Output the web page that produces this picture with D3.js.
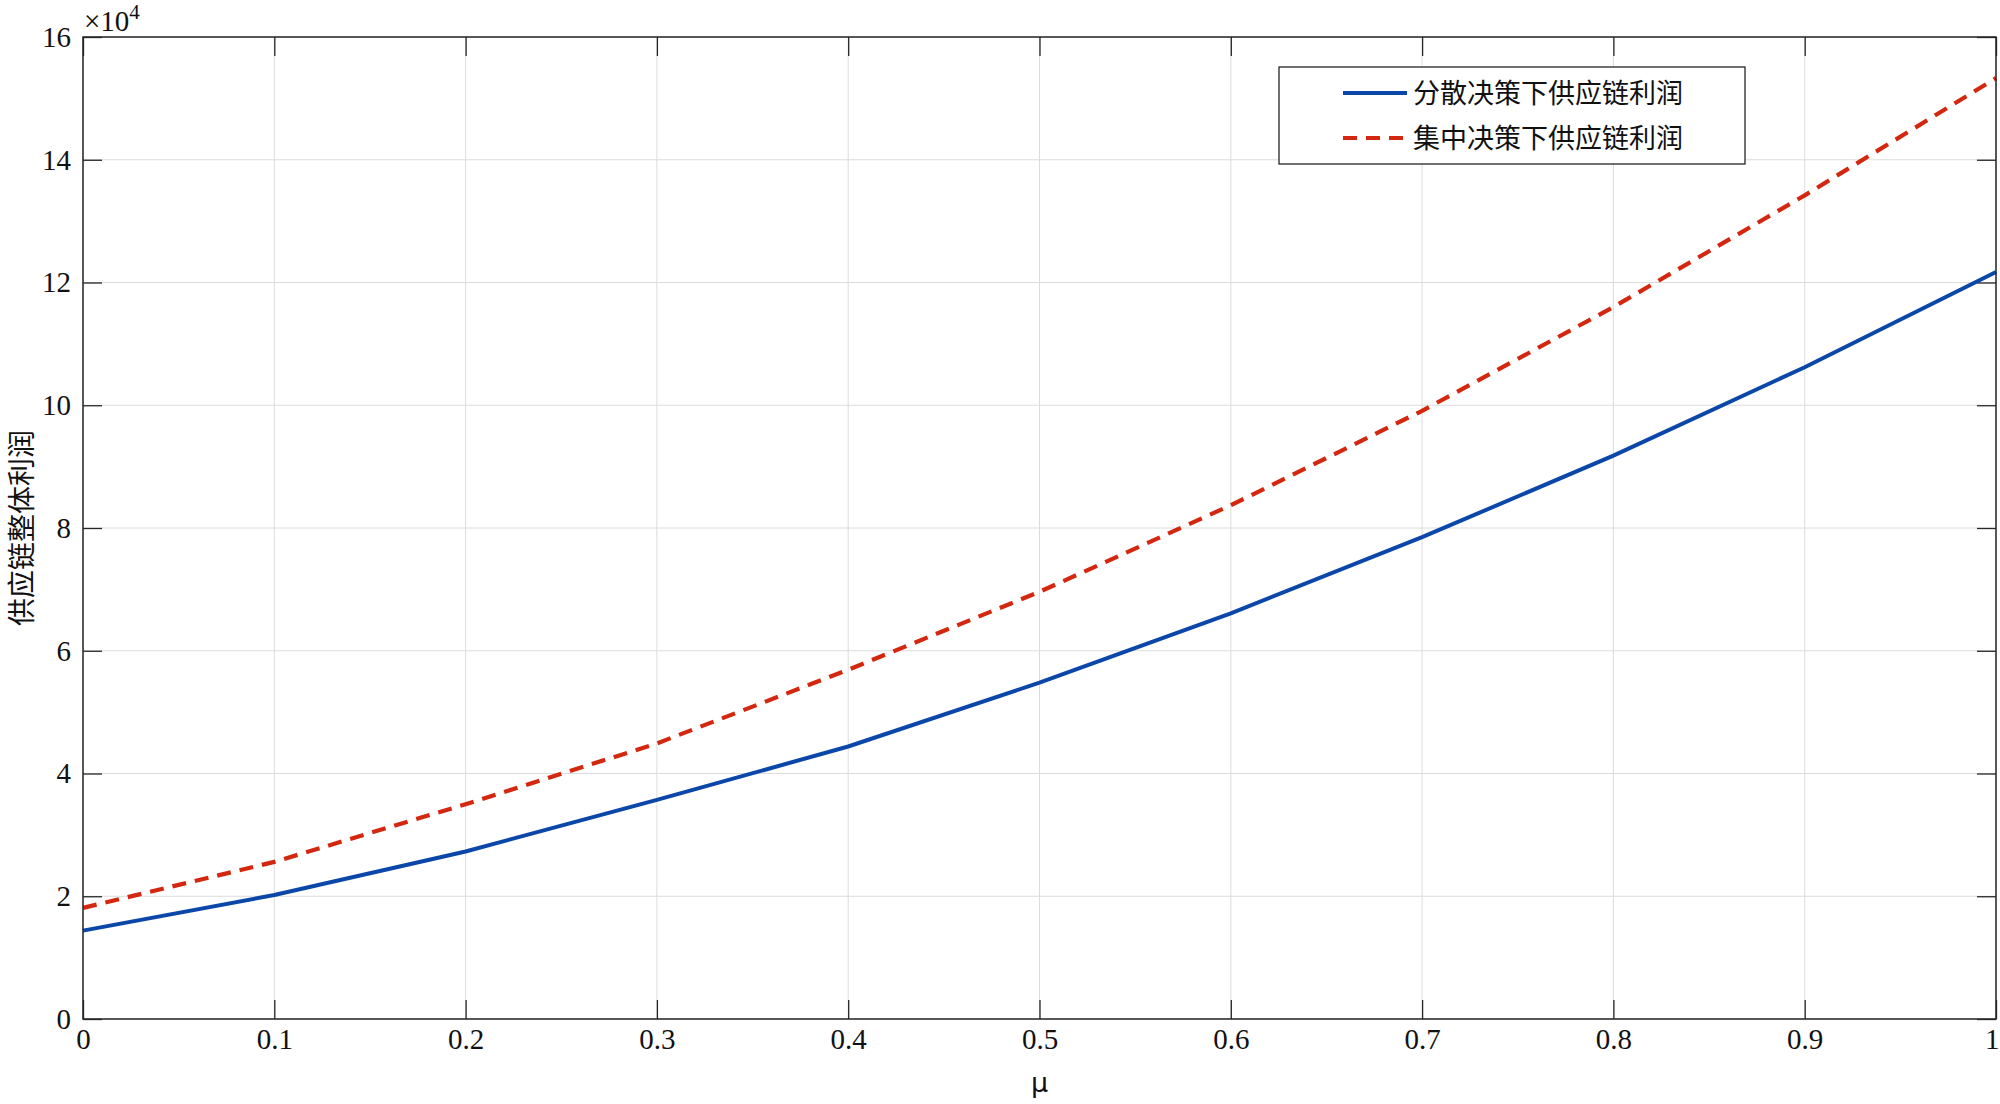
<!DOCTYPE html>
<html><head><meta charset="utf-8">
<script src="https://cdn.jsdelivr.net/npm/d3@7"></script>
<style>body{margin:0;background:#fff}svg{display:block}</style>
</head><body>
<svg id="c" width="2000" height="1104"></svg>
<script>
const muValues = [0,0.1,0.2,0.3,0.4,0.5,0.6,0.7,0.8,0.9,1.0];
const decentralized = [1.44,2.02,2.73,3.57,4.44,5.48,6.61,7.85,9.18,10.62,12.17];
const centralized = [1.81,2.56,3.50,4.49,5.69,6.96,8.37,9.91,11.60,13.42,15.33];
const seriesNames = ["分散决策下供应链利润","集中决策下供应链利润"];
const xTicks = [0,0.1,0.2,0.3,0.4,0.5,0.6,0.7,0.8,0.9,1];
const yTicks = [0,2,4,6,8,10,12,14,16];
const xLabel = "μ";
const yLabel = "供应链整体利润";

const svg = d3.select("#c");
const L=83,R=1996,T=37,B=1019;
const x = d3.scaleLinear().domain([0,1]).range([L,R]);
const y = d3.scaleLinear().domain([0,16]).range([B,T]);
const serif = "'Liberation Serif','Times New Roman',serif";
const cjk = "'Noto Sans CJK SC',sans-serif";

// grid
svg.append("g").selectAll("line").data(xTicks).join("line")
  .attr("x1",d=>x(d)).attr("x2",d=>x(d)).attr("y1",T).attr("y2",B)
  .attr("stroke","#dcdcdc").attr("stroke-width",1);
svg.append("g").selectAll("line").data(yTicks).join("line")
  .attr("x1",L).attr("x2",R).attr("y1",d=>y(d)).attr("y2",d=>y(d))
  .attr("stroke","#dcdcdc").attr("stroke-width",1);

// axes (ticks inward)
const ax = svg.append("g").attr("transform",`translate(0,${B})`)
  .call(d3.axisBottom(x).tickValues(xTicks).tickFormat(d=>d3.format("")(d)).tickSizeInner(-19).tickSizeOuter(0).tickPadding(27));
const ay = svg.append("g").attr("transform",`translate(${L},0)`)
  .call(d3.axisLeft(y).tickValues(yTicks).tickSizeInner(-19).tickSizeOuter(0).tickPadding(12));
svg.append("g").attr("transform",`translate(0,${T})`)
  .call(d3.axisTop(x).tickValues(xTicks).tickFormat("").tickSizeInner(-19).tickSizeOuter(0));
svg.append("g").attr("transform",`translate(${R},0)`)
  .call(d3.axisRight(y).tickValues(yTicks).tickFormat("").tickSizeInner(-19).tickSizeOuter(0));
svg.selectAll(".domain").attr("stroke","none");
svg.selectAll(".tick line").attr("stroke","#262626").attr("stroke-width",1.3);
svg.selectAll(".tick text").attr("font-family",serif).attr("font-size",29).attr("fill","#111");
ax.selectAll(".tick text").attr("dy","0.1em");
ax.selectAll(".tick text").filter(d=>d===1).attr("text-anchor","end").attr("dx","3");

// lines
const line = d3.line().x((d,i)=>x(muValues[i])).y(d=>y(d));
svg.append("path").datum(decentralized).attr("d",line).attr("fill","none")
  .attr("stroke","#0b47a8").attr("stroke-width",4);
svg.append("path").datum(centralized).attr("d",line).attr("fill","none")
  .attr("stroke","#d3280f").attr("stroke-width",4.2).attr("stroke-dasharray","14,9");

// frame
svg.append("rect").attr("x",L).attr("y",T).attr("width",R-L).attr("height",B-T)
  .attr("fill","none").attr("stroke","#262626").attr("stroke-width",1.5);

// exponent
const ex = svg.append("text").attr("x",84).attr("y",31).attr("font-family",serif).attr("fill","#111");
ex.append("tspan").attr("font-size",29).text("×10");
ex.append("tspan").attr("font-size",21).attr("dy",-12).text("4");

// labels
svg.append("text").attr("x",x(0.5)).attr("y",1092).attr("text-anchor","middle")
  .attr("font-family","'DejaVu Sans',sans-serif").attr("font-size",27).attr("fill","#111").text(xLabel);
svg.append("text").attr("transform",`translate(32,${(T+B)/2}) rotate(-90)`).attr("text-anchor","middle")
  .attr("font-family",cjk).attr("font-size",28).attr("fill","#111").text(yLabel);

// legend
const lg = svg.append("g");
lg.append("rect").attr("x",1279).attr("y",67).attr("width",466).attr("height",97)
  .attr("fill","#fff").attr("stroke","#262626").attr("stroke-width",1.3);
const colors=["#0b47a8","#d3280f"], dashes=[null,"14,9"], rowsY=[93,138];
seriesNames.forEach((n,i)=>{
  lg.append("line").attr("x1",1343).attr("x2",1407).attr("y1",rowsY[i]).attr("y2",rowsY[i])
    .attr("stroke",colors[i]).attr("stroke-width",4).attr("stroke-dasharray",dashes[i]);
  lg.append("text").attr("x",1413).attr("y",rowsY[i]).attr("dy","0.36em")
    .attr("font-family",cjk).attr("font-size",27).attr("fill","#111").text(n);
});
</script>
</body></html>
